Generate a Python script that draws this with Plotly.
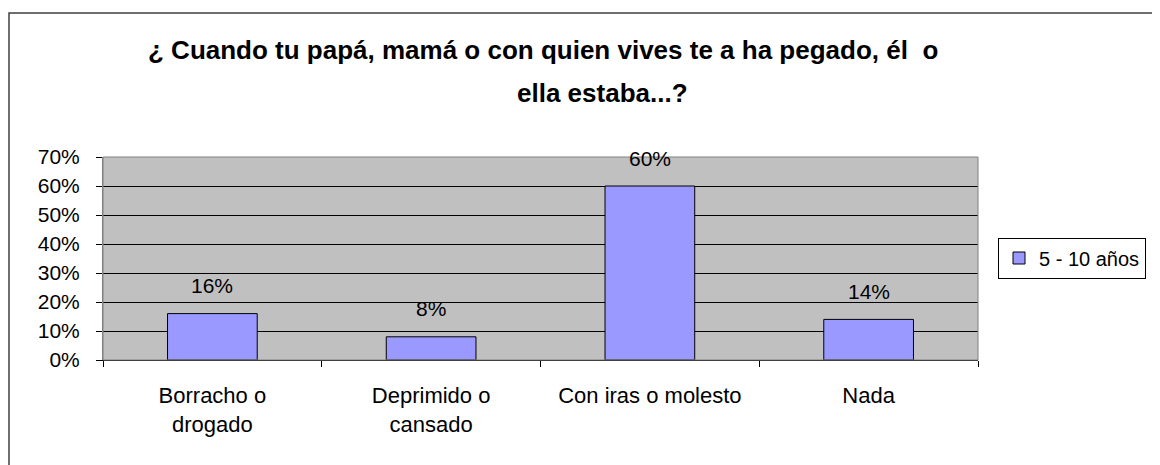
import plotly.graph_objects as go

categories = ["Borracho o<br>drogado", "Deprimido o<br>cansado", "Con iras o molesto", "Nada"]
values = [0.16, 0.08, 0.60, 0.14]
series_name = "5 - 10 años"
title_line1 = "¿ Cuando tu papá, mamá o con quien vives te a ha pegado, él  o"
title_line2 = "ella estaba...?"

FONT = "Liberation Sans, Arial, sans-serif"

# page offset (default body margin of the html page)
OFF = 8
W, H = 1160 - OFF, 465 - OFF
PL, PR, PT, PB = 103 - OFF, 978 - OFF, 157 - OFF, 360 - OFF  # plot area in figure px


def px_x(px):  # page px -> paper x
    return (px - OFF - PL) / (PR - PL)


def px_y(py):  # page px -> paper y
    return (PB - (py - OFF)) / (PB - PT)


fig = go.Figure()
fig.add_trace(go.Bar(
    x=categories, y=values, name=series_name,
    marker=dict(color="#9999FF", line=dict(color="#000000", width=1)),
    width=0.41, textposition="none",
))

for c, v in zip(categories, values):
    fig.add_annotation(x=c, y=v, xref="x", yref="y", text=f"{v:.0%}",
                       showarrow=False, yanchor="middle", yshift=28,
                       font=dict(family=FONT, size=21, color="#000000"))

fig.add_annotation(xref="paper", yref="paper", x=px_x(543), y=px_y(50),
                   xanchor="center", yanchor="middle",
                   text=f"<b>{title_line1}</b>", showarrow=False,
                   font=dict(family=FONT, size=26, color="#000000"))
fig.add_annotation(xref="paper", yref="paper", x=px_x(690), y=px_y(93),
                   xanchor="right", yanchor="middle",
                   text=f"<b>{title_line2}</b>", showarrow=False,
                   font=dict(family=FONT, size=26, color="#000000"))

# outer chart-area border
fig.add_shape(type="rect", xref="paper", yref="paper",
              x0=px_x(9), x1=px_x(1175), y0=px_y(480), y1=px_y(13),
              line=dict(color="#404040", width=1.5), fillcolor="rgba(0,0,0,0)", layer="below")

fig.update_layout(
    width=W, height=H,
    margin=dict(l=PL, r=W - PR, t=PT, b=H - PB, autoexpand=False),
    paper_bgcolor="#FFFFFF", plot_bgcolor="#C0C0C0",
    font=dict(family=FONT, size=21, color="#000000"),
    showlegend=True,
    legend=dict(x=px_x(998), y=px_y(258), xanchor="left", yanchor="middle",
                bordercolor="#000000", borderwidth=1, bgcolor="#FFFFFF",
                font=dict(family=FONT, size=20, color="#000000"),
                itemwidth=30, tracegroupgap=0),
    xaxis=dict(type="category", tickson="boundaries", ticks="outside", ticklen=6,
               tickcolor="#000000", showline=True, linecolor="#000000", linewidth=1,
               showgrid=False, tickfont=dict(size=22), ticklabelstandoff=16),
    yaxis=dict(range=[0, 0.7], dtick=0.1, tickformat=".0%", ticks="outside", ticklen=6,
               tickcolor="#000000", showline=True, linecolor="#808080", linewidth=1,
               showgrid=True, gridcolor="#000000", gridwidth=1, zeroline=False,
               tickfont=dict(size=21), ticklabelstandoff=12),
)

# plot-area border (gray)
fig.add_shape(type="rect", xref="paper", yref="paper", x0=0, x1=1, y0=0, y1=1,
              line=dict(color="#808080", width=1), fillcolor="rgba(0,0,0,0)")

fig.write_html("out.html")
